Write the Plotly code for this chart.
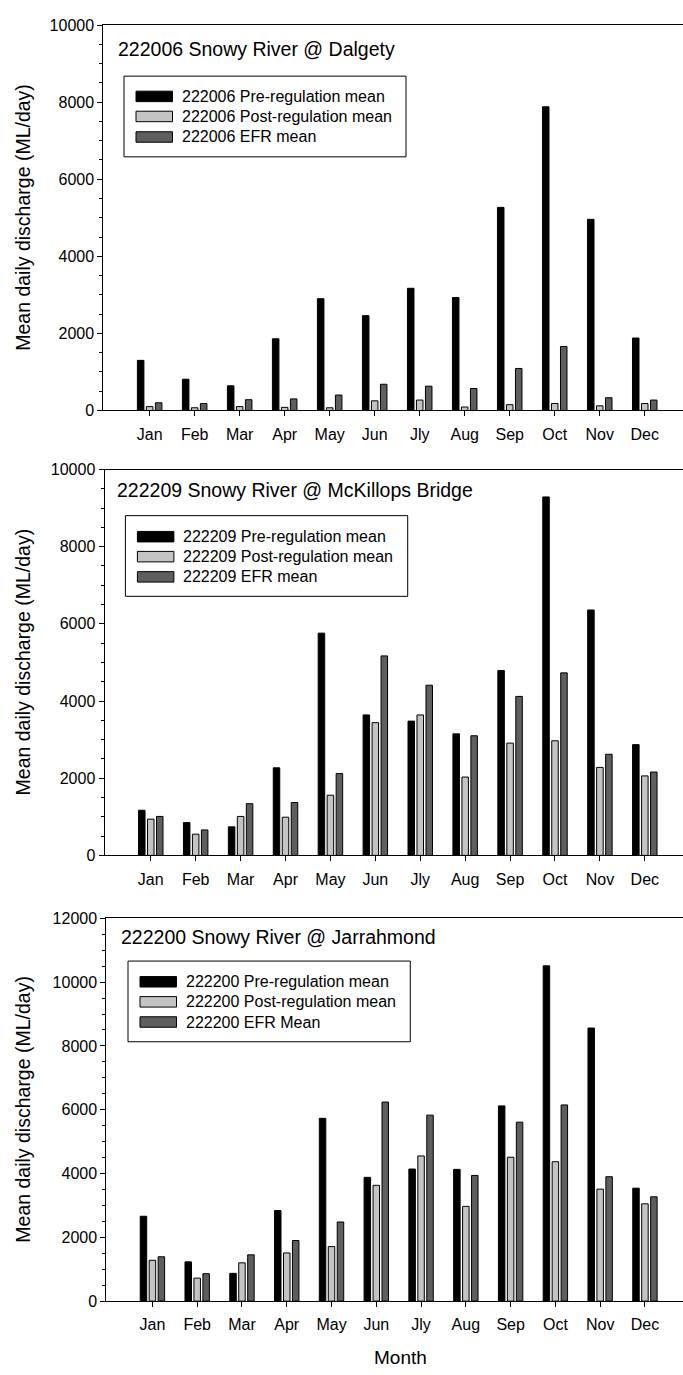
import plotly.graph_objects as go

# Monthly mean daily discharge (ML/day) at three Snowy River gauges
months = ["Jan", "Feb", "Mar", "Apr", "May", "Jun", "Jly", "Aug", "Sep", "Oct", "Nov", "Dec"]

dalgety_pre = [1300, 810, 640, 1860, 2900, 2460, 3170, 2930, 5270, 7880, 4960, 1880]
dalgety_post = [100, 70, 100, 80, 70, 250, 270, 90, 150, 180, 120, 180]
dalgety_efr = [200, 180, 280, 300, 400, 680, 630, 570, 1090, 1660, 330, 270]

mckillops_pre = [1170, 850, 740, 2270, 5760, 3640, 3480, 3150, 4790, 9290, 6360, 2870]
mckillops_post = [940, 550, 1010, 990, 1560, 3440, 3640, 2030, 2910, 2970, 2280, 2060]
mckillops_efr = [1010, 660, 1340, 1370, 2120, 5170, 4410, 3100, 4120, 4730, 2620, 2160]

jarrahmond_pre = [2660, 1230, 870, 2840, 5730, 3880, 4140, 4130, 6120, 10510, 8560, 3540]
jarrahmond_post = [1280, 720, 1200, 1510, 1710, 3630, 4550, 2970, 4510, 4370, 3510, 3050]
jarrahmond_efr = [1390, 860, 1450, 1900, 2480, 6240, 5830, 3940, 5610, 6150, 3900, 3270]

station_titles = [
    "222006 Snowy River @ Dalgety",
    "222209 Snowy River @ McKillops Bridge",
    "222200 Snowy River @ Jarrahmond",
]
legend_names = [
    ["222006 Pre-regulation mean", "222006 Post-regulation mean", "222006 EFR mean"],
    ["222209 Pre-regulation mean", "222209 Post-regulation mean", "222209 EFR mean"],
    ["222200 Pre-regulation mean", "222200 Post-regulation mean", "222200 EFR Mean"],
]
y_max = [10000, 10000, 12000]

W, H = 683, 1375
FONT = "Liberation Sans, Arial, sans-serif"
colors = ["#000000", "#c4c4c4", "#5e5e5e"]

panels = [
    (dalgety_pre, dalgety_post, dalgety_efr),
    (mckillops_pre, mckillops_post, mckillops_efr),
    (jarrahmond_pre, jarrahmond_post, jarrahmond_efr),
]

# pixel layout of each panel: left edge, top (max value) and bottom (zero)
panel_box = [
    dict(left=103.3, top=17.3, bottom=407.5),
    dict(left=104.5, top=467.3, bottom=858.0),
    dict(left=106.3, top=921.7, bottom=1309.3),
]
title_pos = [(116, 41.7), (115, 488.3), (119, 941)]
legend_box = [
    dict(x0=124, x1=406, y0=69, y1=150.7, rows=[89.5, 109.8, 130.6]),
    dict(x0=125.4, x1=407.7, y0=514, y1=595.7, rows=[535.3, 555.5, 576]),
    dict(x0=128, x1=410.3, y0=965, y1=1046.7, rows=[986, 1006.3, 1026.7]),
]


def px(x):
    return x / W


def py(y):
    return 1 - y / H


fig = go.Figure()
shapes = []
annotations = []

for i, series in enumerate(panels):
    ax = "" if i == 0 else str(i + 1)
    for vals, color, name in zip(series, colors, legend_names[i]):
        fig.add_trace(go.Bar(
            x=months, y=vals, name=name,
            marker=dict(color=color, line=dict(color="#000000", width=1)),
            xaxis="x" + ax, yaxis="y" + ax, showlegend=False,
        ))

    box = panel_box[i]
    fig.update_layout(**{
        "xaxis" + ax: dict(
            domain=[px(box["left"]), 1.0], range=[-1.03, 11.85],
            type="category", anchor="y" + ax,
            showline=True, linecolor="#000000", linewidth=1, mirror=True,
            ticks="outside", ticklen=5, tickcolor="#000000", ticklabelstandoff=4,
            tickfont=dict(family=FONT, size=16, color="#000000"),
            showgrid=False, zeroline=False,
        ),
        "yaxis" + ax: dict(
            domain=[py(box["bottom"]), py(box["top"])], range=[0, y_max[i]],
            anchor="x" + ax, dtick=2000, tickformat="d",
            showline=True, linecolor="#000000", linewidth=1,
            ticks="outside", ticklen=5, tickcolor="#000000",
            minor=dict(dtick=500, ticks="outside", ticklen=3, tickcolor="#000000"),
            tickfont=dict(family=FONT, size=16, color="#000000"),
            showgrid=False, zeroline=False,
        ),
    })

    # station name
    tx, ty = title_pos[i]
    annotations.append(dict(
        x=px(tx), y=py(ty), xref="paper", yref="paper", xanchor="left", yanchor="middle",
        text=station_titles[i], showarrow=False,
        font=dict(family=FONT, size=19.5, color="#000000"),
    ))

    # y-axis title
    annotations.append(dict(
        x=px(23), y=py((box["top"] + box["bottom"]) / 2), xref="paper", yref="paper",
        xanchor="center", yanchor="middle", textangle=-90,
        text="Mean daily discharge (ML/day)", showarrow=False,
        font=dict(family=FONT, size=19.5, color="#000000"),
    ))

    # legend box with swatches
    lb = legend_box[i]
    shapes.append(dict(
        type="rect", xref="paper", yref="paper",
        x0=px(lb["x0"]), x1=px(lb["x1"]), y0=py(lb["y1"]), y1=py(lb["y0"]),
        line=dict(color="#000000", width=1), fillcolor="#ffffff", layer="above",
    ))
    for row_y, color, name in zip(lb["rows"], colors, legend_names[i]):
        sx0 = lb["x0"] + 12
        shapes.append(dict(
            type="rect", xref="paper", yref="paper",
            x0=px(sx0), x1=px(sx0 + 36.5), y0=py(row_y + 5.3), y1=py(row_y - 5.3),
            line=dict(color="#000000", width=1), fillcolor=color, layer="above",
        ))
        annotations.append(dict(
            x=px(sx0 + 44), y=py(row_y), xref="paper", yref="paper",
            xanchor="left", yanchor="middle", text=name, showarrow=False,
            font=dict(family=FONT, size=16, color="#000000"),
        ))

annotations.append(dict(
    x=px(400), y=py(1366.7), xref="paper", yref="paper", xanchor="center", yanchor="middle",
    text="Month", showarrow=False, font=dict(family=FONT, size=19, color="#000000"),
))

fig.update_layout(
    width=W, height=H,
    margin=dict(l=0, r=0, t=0, b=0),
    paper_bgcolor="#ffffff", plot_bgcolor="#ffffff",
    barmode="group", bargap=0.4, bargroupgap=0.275,
    showlegend=False,
    shapes=shapes, annotations=annotations,
    font=dict(family=FONT, color="#000000"),
)

fig.write_html("out.html")
